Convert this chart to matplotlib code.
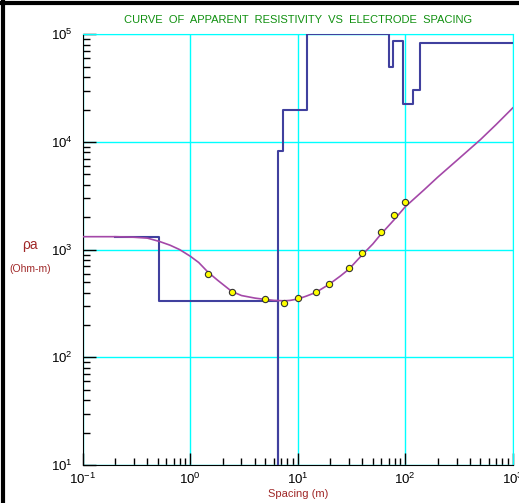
import matplotlib
matplotlib.use("Agg")
import matplotlib.pyplot as plt
from matplotlib.lines import Line2D
from matplotlib.ticker import LogLocator, NullFormatter

plt.rcParams['font.family'] = ['Liberation Sans', 'DejaVu Sans']
plt.rcParams['mathtext.fontset'] = 'custom'
plt.rcParams['mathtext.rm'] = 'Liberation Sans'

# measured points (spacing in m, apparent resistivity in Ohm-m)
spacing = [1.47, 2.43, 5.0, 7.5, 10, 14.7, 19.5, 30, 40, 59, 79, 100]
rho_obs = [600, 406, 347, 323, 355, 406, 484, 673, 940, 1470, 2100, 2800]

# calculated curve
curve_x = [0.1, 0.2, 0.3, 0.4, 0.52, 0.65, 0.8, 1.0, 1.2, 1.46, 1.8, 2.43,
           3.0, 4.0, 5.0, 6.0, 7.5, 8.5, 10, 12, 14.7, 19.5, 25, 30, 40,
           50, 59, 79, 100, 150, 200, 300, 500, 700, 1000]
curve_y = [1320, 1320, 1305, 1280, 1190, 1100, 1000, 870, 760, 620, 520, 410,
           375, 355, 345, 338, 335, 338, 348, 370, 400, 475, 570, 660, 900,
           1130, 1380, 1900, 2500, 3600, 4700, 6700, 10500, 14500, 20700]

# layered model: layer boundaries and resistivities
edges = [0.2, 0.51, 6.5, 6.6, 7.35, 12.1, 70.7, 76.5, 94.8, 117, 137, 1000]
rho_layer = [1324, 337, 5, 8300, 19800, 100000, 50000, 87000, 22500, 30400, 83500]

fig = plt.figure(figsize=(5.19, 5.03), dpi=100)
ax = fig.add_axes([0.1593, 0.0755, 0.8286, 0.8563])

ax.set_xscale('log')
ax.set_yscale('log')
ax.set_xlim(0.1, 1000)
ax.set_ylim(10, 100000)

ax.grid(True, which='major', color='#00ffff', lw=1.0)
ax.set_axisbelow(True)

ax.step(edges, rho_layer + [rho_layer[-1]], where='post', color='#40409e', lw=1.5, zorder=3)
ax.plot(curve_x, curve_y, color='#a448a8', lw=1.2, zorder=4)
ax.plot(spacing, rho_obs, 'o', ms=4.5, mfc='#ffff00', mec='#333333', mew=0.8, zorder=5)

for s in ['top', 'right']:
    ax.spines[s].set_color('#00ffff')
for s in ['left', 'bottom']:
    ax.spines[s].set_color('black')

ax.xaxis.set_minor_locator(LogLocator(base=10, subs=range(2, 10), numticks=20))
ax.yaxis.set_minor_locator(LogLocator(base=10, subs=range(2, 10), numticks=20))
ax.xaxis.set_minor_formatter(NullFormatter())
ax.yaxis.set_minor_formatter(NullFormatter())
ax.tick_params(which='both', direction='in', top=False, right=False, labelsize=9.5)
ax.tick_params(which='major', length=9, width=1)
ax.tick_params(which='minor', length=5, width=1)
ax.tick_params(axis='y', pad=7)
ax.tick_params(axis='x', pad=5)

ax.set_title('CURVE  OF  APPARENT  RESISTIVITY  VS  ELECTRODE  SPACING',
             color='#109010', fontsize=8, pad=8)
ax.set_xlabel('Spacing (m)', color='#a02828', fontsize=8, labelpad=1)
fig.text(0.058, 0.513, 'ρa', color='#a02828', fontsize=10, ha='center', va='center')
fig.text(0.058, 0.465, '(Ohm-m)', color='#a02828', fontsize=7.5, ha='center', va='center')

# window frame
fig.add_artist(Line2D([0.006, 0.006], [0, 1], color='black', lw=3))
fig.add_artist(Line2D([0, 1], [0.995, 0.995], color='black', lw=3))

fig.savefig('out.png', dpi=100)
